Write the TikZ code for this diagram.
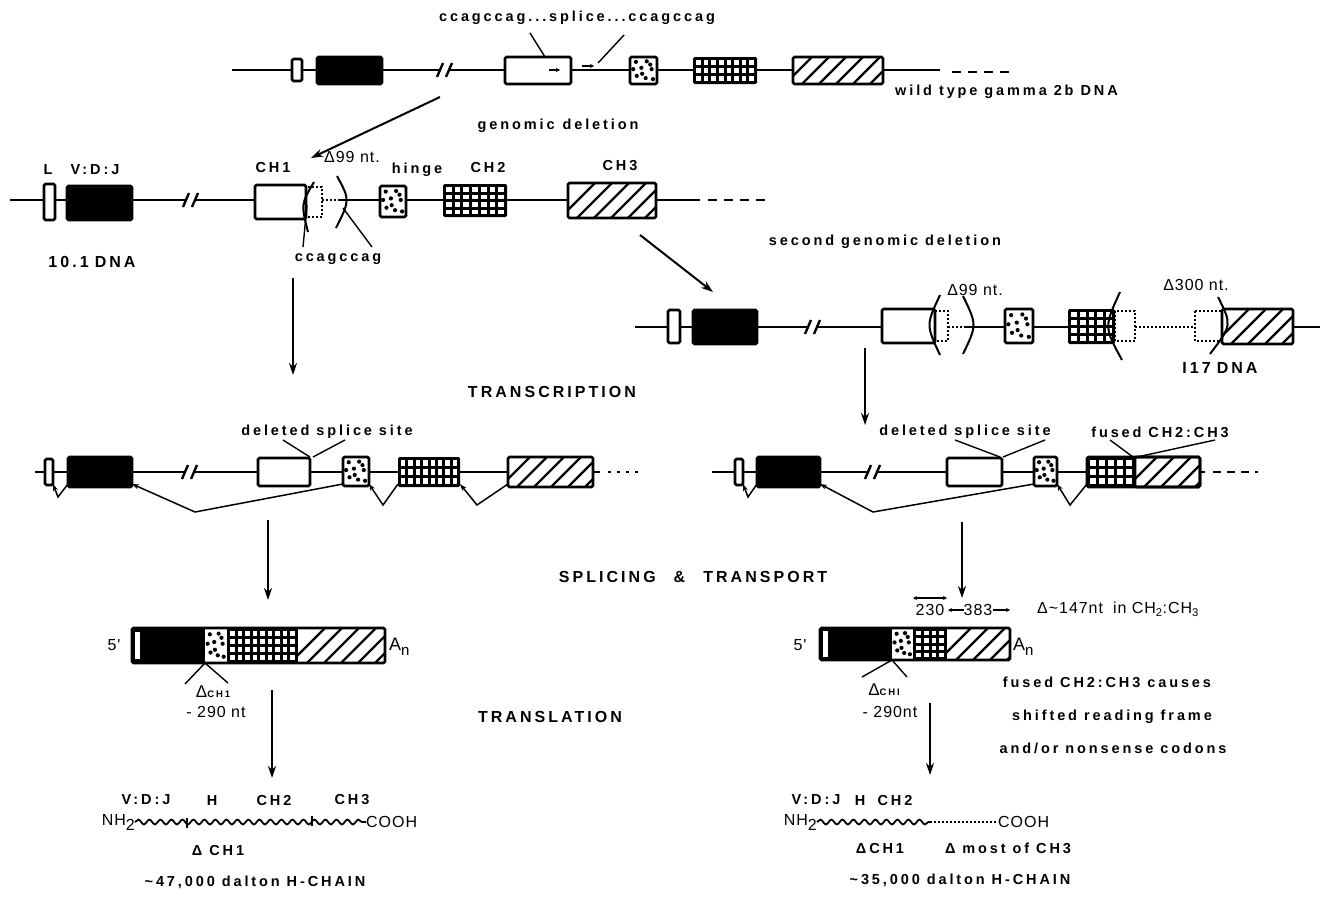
\documentclass[tikz,border=0pt]{standalone}
\usepackage{fontspec}
\setmainfont{Liberation Sans}
\newfontfamily\labfont[LetterSpace=20]{Liberation Sans}
\newfontfamily\hdgfont[LetterSpace=19]{Liberation Sans}
\newfontfamily\thnfont[LetterSpace=6]{Liberation Sans}
\usetikzlibrary{arrows.meta, decorations.pathmorphing}

% exon boxes, all in pixel coordinates (x1,y1,x2,y2)
\newcommand\plainbox[4]{\draw[exon,fill=white] (#1,#2) rectangle (#3,#4);}
\newcommand\blackbox[4]{\draw[exon,fill=black] (#1,#2) rectangle (#3,#4);}
\newcommand\stipfill[4]{%
  \foreach \fx/\fy in {0.22/0.18,0.62/0.16,0.42/0.4,0.8/0.45,0.25/0.7,0.58/0.78,0.85/0.82,0.12/0.45,0.45/0.62,0.75/0.28}
    \fill ({#1+\fx*(#3-#1)},{#2+\fy*(#4-#2)}) circle (2.1pt);}
\newcommand\stipbox[4]{\draw[exon,fill=white] (#1,#2) rectangle (#3,#4); \stipfill{#1}{#2}{#3}{#4}}
\newcommand\gridbox[6]{%
  \fill[rounded corners=1.5pt] (#1,#2) rectangle (#3,#4);
  \pgfmathsetmacro\gdx{(#3-#1-3)/#5}
  \pgfmathsetmacro\gdy{(#4-#2-3)/#6}
  \foreach \gi in {1,...,#5}
    \foreach \gj in {1,...,#6}
      \fill[white] ({#1+1.5+(\gi-1)*\gdx+1.5},{#2+1.5+(\gj-1)*\gdy+1.5}) rectangle ++({\gdx-3},{\gdy-3});}
\newcommand\hatchfill[4]{%
  \fill[white] (#1,#2) rectangle (#3,#4);
  \begin{scope}
    \clip (#1,#2) rectangle (#3,#4);
    \foreach \k in {0,...,11}
      \draw[line width=2.4pt] ({#1-8+\k*17},#4) -- ++({#4-#2},{#2-#4});
  \end{scope}}
\newcommand\hatchbox[4]{\hatchfill{#1}{#2}{#3}{#4}\draw[exon] (#1,#2) rectangle (#3,#4);}
% break mark on the DNA line
\newcommand\brk[2]{%
  \draw[dna] ({#1-3},{#2+7}) -- ({#1+3},{#2-7});
  \draw[dna] ({#1+6},{#2+7}) -- ({#1+12},{#2-7});}

\begin{document}
\begin{tikzpicture}[x=1pt,y=-1pt,
  dna/.style={line width=2.4pt},
  exon/.style={line width=2.6pt, rounded corners=1.5pt},
  del/.style={dotted, line width=2pt},
  cut/.style={line width=2pt},
  lead/.style={line width=1.4pt},
  arr/.style={line width=2pt, -{Stealth[length=12pt,width=8pt]}},
  splice/.style={line width=1.5pt, -{Stealth[length=7pt,width=5pt]}},
  wavy/.style={line width=1.8pt, decorate, decoration={snake, segment length=11pt, amplitude=2.4pt}},
  lab/.style={font=\labfont\bfseries\fontsize{14.5}{16}\selectfont, inner sep=0pt},
  hdg/.style={font=\hdgfont\bfseries\fontsize{16}{18}\selectfont, inner sep=0pt},
  thn/.style={font=\thnfont\fontsize{16}{18}\selectfont, inner sep=0pt}]
\useasboundingbox (0,0) rectangle (1324,902);

% wild type gamma 2b DNA
\draw[dna] (232,70) -- (440,70);
\draw[dna] (449,70) -- (940,70);
\draw[dna, dash pattern=on 9pt off 7pt] (952,72) -- (1012,72);
\brk{440}{70}
\plainbox{292}{59}{302}{81}
\blackbox{317}{57}{382}{84}
\plainbox{505}{57}{571}{84}
\draw[-{Stealth[length=4pt,width=4pt]}, line width=1.2pt] (549,70) -- (560,70);
\draw[-{Stealth[length=4pt,width=4pt]}, line width=1.2pt] (582,66) -- (594,66);
\stipbox{630}{57}{657}{84}
\gridbox{693}{57}{757}{84}{8}{3}
\hatchbox{793}{57}{883}{84}
\node[lab] (ccag) at (577,18) {ccagccag...splice...ccagccag};
\draw[lead] (545,57) -- (530,33);
\draw[lead] (598,63) -- (624,35);
\node[lab, anchor=west] (wt) at (895,92) {wild type gamma 2b DNA};
\node[lab] (gdel) at (558,126) {genomic\hspace{8pt}deletion};
\draw[arr] (440,97) -- (311,158);

% 10.1 DNA
\draw[dna] (10,200) -- (186,200);
\brk{186}{200}
\draw[dna] (195,200) -- (306,200);
\draw[del] (322,200) -- (340,200);
\draw[dna] (340,200) -- (700,200);
\draw[dna, dash pattern=on 9pt off 7pt] (708,200) -- (767,200);
\plainbox{44}{184}{55}{220}
\blackbox{67}{186}{132}{220}
\plainbox{255}{185}{306}{219}
\draw[del] (306,187) rectangle (322,217);
\draw[cut] (314,182) .. controls (301,204) .. (308,232);
\draw[cut] (337,176) .. controls (350,200) .. (336,228);
\stipbox{380}{186}{406}{217}
\gridbox{443}{184}{507}{217}{7}{4}
\hatchbox{568}{183}{656}{218}
\node[lab] (lL) at (48,170) {L};
\node[lab] (lvdj) at (95,170) {V:D:J};
\node[lab] (lch1) at (273,168) {CH1};
\node[lab] (lhin) at (417,170) {hinge};
\node[lab] (lch2) at (488,168) {CH2};
\node[lab] (lch3) at (620,166) {CH3};
\node[thn] (d99a) at (352,157) {Δ99 nt.};
\node[lab] (ccag2) at (338,259) {ccagccag};
\draw[lead] (307,205) -- (303,247);
\draw[lead] (343,208) -- (372,247);
\node[hdg] (dna101) at (92,262) {10.1\hspace{6pt}DNA};
\draw[arr] (293,278) -- (293,375);
\draw[arr] (640,235) -- (713,292);
\node[lab] (gdel2) at (885,242) {second genomic deletion};

% I17 DNA
\draw[dna] (635,327) -- (808,327);
\brk{808}{327}
\draw[dna] (817,327) -- (935,327);
\draw[del] (948,327) -- (966,327);
\draw[dna] (966,327) -- (1068,327);
\draw[del] (1135,327) -- (1195,327);
\draw[dna] (1293,327) -- (1320,327);
\plainbox{668}{310}{680}{343}
\blackbox{693}{310}{757}{344}
\plainbox{882}{309}{935}{343}
\draw[del] (935,311) rectangle (948,341);
\draw[cut] (940,295) .. controls (926,325) .. (940,355);
\draw[cut] (963,296) .. controls (977,325) .. (963,354);
\stipbox{1005}{309}{1033}{343}
\gridbox{1068}{309}{1115}{344}{5}{4}
\draw[del] (1115,311) rectangle (1135,341);
\draw[cut] (1120,292) .. controls (1104,327) .. (1122,360);
\draw[del] (1195,311) rectangle (1222,341);
\hatchbox{1222}{309}{1293}{344}
\draw[cut] (1218,297) .. controls (1232,325) .. (1210,354);
\node[thn] (d99b) at (975,290) {Δ99 nt.};
\node[thn] (d300) at (1196,285) {Δ300 nt.};
\node[hdg] (dnai17) at (1220,368) {I17\hspace{6pt}DNA};
\draw[arr] (865,348) -- (865,425);

\node[hdg] (trc) at (552,392) {TRANSCRIPTION};

% transcript of 10.1
\draw[dna] (35,472) -- (185,472);
\brk{185}{472}
\draw[dna] (194,472) -- (600,472);
\draw[dna, dash pattern=on 3pt off 6pt] (608,472) -- (640,472);
\plainbox{45}{459}{53}{485}
\blackbox{68}{457}{132}{487}
\plainbox{258}{458}{310}{486}
\stipbox{343}{457}{369}{486}
\gridbox{398}{457}{460}{487}{8}{3}
\hatchbox{508}{457}{593}{487}
\node[lab] (dssa) at (327,432) {deleted splice site};
\draw[lead] (283,440) -- (310,457);
\draw[lead] (345,440) -- (313,457);
\draw[splice] (68,484) -- (58,497) -- (53,484);
\draw[splice] (343,484) -- (195,512) -- (132,484);
\draw[splice] (398,484) -- (383,505) -- (369,484);
\draw[splice] (508,484) -- (477,505) -- (460,484);
\draw[arr] (268,520) -- (268,600);

% transcript of I17
\draw[dna] (712,472) -- (868,472);
\brk{868}{472}
\draw[dna] (877,472) -- (1205,472);
\draw[dna, dash pattern=on 8pt off 6pt] (1213,472) -- (1258,472);
\plainbox{735}{459}{743}{485}
\blackbox{757}{457}{820}{487}
\plainbox{947}{458}{1002}{486}
\stipbox{1034}{457}{1057}{486}
\gridbox{1087}{457}{1135}{487}{5}{3}
\hatchbox{1135}{457}{1200}{487}
\draw[exon] (1087,457) rectangle (1200,487);
\node[lab] (dssb) at (965,432) {deleted splice site};
\node[lab] (fus) at (1160,432) {fused CH2:CH3};
\draw[lead] (955,440) -- (1000,457);
\draw[lead] (1045,440) -- (1003,457);
\draw[lead] (1110,440) -- (1133,457);
\draw[lead] (1215,440) -- (1137,457);
\draw[splice] (757,484) -- (748,497) -- (743,484);
\draw[splice] (1034,484) -- (873,512) -- (820,484);
\draw[splice] (1087,484) -- (1070,505) -- (1057,484);
\draw[arr] (962,522) -- (962,598);

\node[hdg] (spl) at (693,577) {SPLICING\hspace{18pt}\&\hspace{18pt}TRANSPORT};

% mRNA of 10.1
\fill (132,628) rectangle (205,663);
\fill[white] (135,632) rectangle (140,659);
\fill[white] (205,628) rectangle (227,663);
\stipfill{205}{628}{227}{663}
\gridbox{227}{628}{298}{663}{9}{4}
\hatchfill{298}{628}{385}{663}
\draw[exon] (132,628) rectangle (385,663);
\node[thn] (p5a) at (114,645) {5'};
\node[font=\fontsize{18}{20}\selectfont, inner sep=0pt, anchor=west] (ana) at (389,647) {A\raisebox{-5pt}{\fontsize{15}{16}\selectfont n}};
\draw[lead] (205,663) -- (185,684);
\draw[lead] (205,663) -- (228,683);
\node[inner sep=0pt] (dch1a) at (213,692) {{\fontsize{17}{17}\selectfont Δ}{\labfont\bfseries\fontsize{9.5}{10}\selectfont CH1}};
\node[thn] (nt290a) at (216,712) {- 290 nt};
\draw[arr] (272,690) -- (272,778);

\node[hdg] (trl) at (550,717) {TRANSLATION};

% mRNA of I17
\fill (820,628) rectangle (892,660);
\fill[white] (823,631) rectangle (828,657);
\fill[white] (892,628) rectangle (913,660);
\stipfill{892}{628}{913}{660}
\gridbox{913}{628}{947}{660}{4}{4}
\hatchfill{947}{628}{1010}{660}
\draw[exon] (820,628) rectangle (1010,660);
\node[thn] (p5b) at (800,645) {5'};
\node[font=\fontsize{18}{20}\selectfont, inner sep=0pt, anchor=west] (anb) at (1013,647) {A\raisebox{-5pt}{\fontsize{15}{16}\selectfont n}};
\draw[{Stealth[length=4pt,width=4pt]}-{Stealth[length=4pt,width=4pt]}, line width=1.2pt] (913,598) -- (947,598);
\node[thn] (n230) at (930,610) {230};
\node[thn] (n383) at (978,610) {383};
\draw[-{Stealth[length=4pt,width=4pt]}, line width=1.2pt] (n383.west) -- (948,610);
\draw[-{Stealth[length=4pt,width=4pt]}, line width=1.2pt] (n383.east) -- (1010,610);
\node[thn, anchor=west] (d147) at (1037,609) {Δ\textasciitilde147nt\hspace{10pt}in CH\textsubscript{2}:CH\textsubscript{3}};
\draw[lead] (892,660) -- (862,677);
\draw[lead] (892,660) -- (907,677);
\node[inner sep=0pt] (dch1b) at (884,690) {{\fontsize{17}{17}\selectfont Δ}{\labfont\bfseries\fontsize{9.5}{10}\selectfont CHI}};
\node[thn] (nt290b) at (890,712) {- 290nt};
\draw[arr] (930,703) -- (930,775);
\node[lab] (cz1) at (1107,682) {fused CH2:CH3 causes};
\node[lab] (cz2) at (1112,717) {shifted reading frame};
\node[lab] (cz3) at (1113,748) {and/or nonsense codons};

% H-chain of 10.1
\node[thn, anchor=east] (nh2a) at (135,822) {NH\raisebox{-5pt}{2}};
\node[thn, anchor=west] (cooha) at (366,822) {COOH};
\draw[wavy] (nh2a.east) -- (cooha.west);
\draw[line width=1.5pt] (187,818) -- (187,828);
\draw[line width=1.5pt] (312,816) -- (312,826);
\node[lab] (pa1) at (146,800) {V:D:J};
\node[lab] (pa2) at (212,800) {H};
\node[lab] (pa3) at (274,800) {CH2};
\node[lab] (pa4) at (352,800) {CH3};
\node[lab] (pa5) at (218,850) {Δ CH1};
\node[lab] (pa6) at (255,882) {\textasciitilde47,000 dalton H-CHAIN};

% H-chain of I17
\node[thn, anchor=east] (nh2b) at (817,822) {NH\raisebox{-5pt}{2}};
\node[thn, anchor=west] (coohb) at (998,822) {COOH};
\coordinate (endb) at (930,822);
\draw[wavy] (nh2b.east) -- (endb);
\draw[line width=1.5pt, dash pattern=on 2pt off 2pt] (endb) -- (coohb.west);
\node[lab] (pb1) at (816,800) {V:D:J};
\node[lab] (pb2) at (860,800) {H};
\node[lab] (pb3) at (895,800) {CH2};
\node[lab] (pb4) at (880,848) {ΔCH1};
\node[lab] (pb5) at (1008,848) {Δ most of CH3};
\node[lab] (pb6) at (960,880) {\textasciitilde35,000 dalton H-CHAIN};
\end{tikzpicture}
\end{document}
